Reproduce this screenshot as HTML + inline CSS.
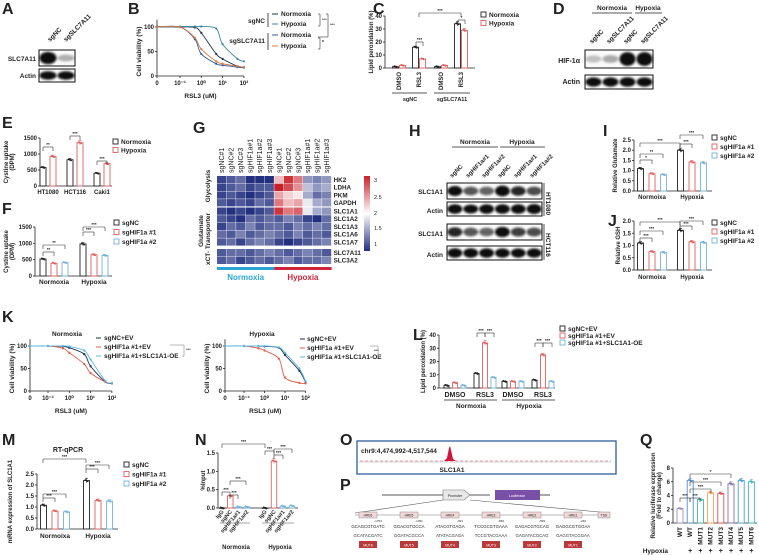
<!DOCTYPE html>
<html><head><meta charset="utf-8">
<style>
html,body{margin:0;padding:0;background:#fff;}
svg{display:block;font-family:"Liberation Sans",Arial,sans-serif;}
</style></head>
<body>
<svg id="fig" width="759" height="555" viewBox="0 0 759 555" xmlns="http://www.w3.org/2000/svg">
<defs>
<filter id="blur" x="-50%" y="-50%" width="200%" height="200%"><feGaussianBlur stdDeviation="1.1"/></filter>
<linearGradient id="cbar" x1="0" y1="0" x2="0" y2="1">
<stop offset="0" stop-color="#c8202a"/><stop offset="0.5" stop-color="#ffffff"/><stop offset="1" stop-color="#22307f"/>
</linearGradient>
</defs>
</svg>
<script>
// ---------- DATA ----------
const doses=[0,0.1,0.5,1,5,10,50,100];
const B_sgNC_norm=[100,100,99,88,45,35,20,18];
const B_sgNC_hyp=[101,101,101,101,97,65,35,30];
const B_sgSLC_norm=[100,100,75,45,25,22,18,17];
const B_sgSLC_hyp=[100,100,78,55,30,25,20,18];
const C_norm=[1,16,1,34];
const C_hyp=[2,7,2,29];
const C_cats=['DMSO','RSL3','DMSO','RSL3'];
const E_cats=['HT1080','HCT116','Caki1'];
const E_norm=[580,820,400];
const E_hyp=[920,1350,700];
const F_sgNC=[520,980];
const F_sg1=[390,650];
const F_sg2=[410,630];
const I_sgNC=[1.1,2.0];
const I_sg1=[0.85,1.42];
const I_sg2=[0.8,1.38];
const J_sgNC=[1.1,1.62];
const J_sg1=[0.75,1.15];
const J_sg2=[0.72,1.12];
const K_norm_ctrl=[100,100,99,96,82,55,20,17];
const K_norm_sg=[100,100,95,85,60,40,20,17];
const K_norm_oe=[100,100,100,99,90,70,22,18];
const K_hyp_ctrl=[100,100,100,99,96,80,45,20];
const K_hyp_sg=[100,100,95,90,72,30,18,17];
const K_hyp_oe=[100,100,100,100,97,85,50,22];
const L_ctrl=[2,11,5,6];
const L_sg=[4,34,5,25];
const L_oe=[2,8,5,5];
const M_sgNC=[1.08,2.2];
const M_sg1=[0.82,1.3];
const M_sg2=[0.78,1.27];
const N_cats=['IgG','sgNC','sgHIF1a#1','sgHIF1a#2'];
const N_norm=[0,0.33,0.03,0.03];
const N_hyp=[0,1.28,0.05,0.06];
const Q_cats=['WT','WT','MUT1','MUT2','MUT3','MUT4','MUT5','MUT6'];
const Q_hyp=['-','+','+','+','+','+','+','+'];
const Q_vals=[2.1,6.2,3.4,4.4,4.3,5.7,6.2,6.0];
const G_cols=['sgNC#1','sgNC#2','sgNC#3','sgHIF1a#1','sgHIF1a#2','sgHIF1a#3','sgNC#1','sgNC#2','sgNC#3','sgHIF1a#1','sgHIF1a#2','sgHIF1a#3'];
const G_rows=['HK2','LDHA','PKM','GAPDH','SLC1A1','SLC1A2','SLC1A3','SLC1A6','SLC1A7','SLC7A11','SLC3A2'];
const G_vals=[
[1.1,1.2,1.3,1.0,1.0,1.0,2.3,2.9,2.6,1.5,1.4,1.5],
[1.1,1.2,1.3,1.1,1.2,1.2,3.0,2.8,2.5,1.7,1.5,1.6],
[1.1,1.2,1.1,1.0,1.1,1.2,2.4,2.2,2.1,1.6,1.3,1.4],
[1.2,1.1,1.2,1.1,1.3,1.2,2.6,2.3,2.4,1.9,1.6,1.5],
[1.1,1.0,1.1,1.0,1.1,1.2,2.9,2.6,2.7,1.9,1.6,1.5],
[1.2,1.1,1.0,1.3,1.2,1.3,1.2,1.4,1.3,1.1,1.0,1.3],
[1.1,1.3,1.2,1.4,1.2,1.3,1.3,1.2,1.4,1.3,1.4,1.3],
[1.3,1.2,1.4,1.2,1.3,1.4,1.3,1.2,1.4,1.2,1.3,1.2],
[1.2,1.3,1.1,1.3,1.4,1.3,1.1,1.0,1.1,1.2,1.3,1.4],
[1.2,1.3,1.3,1.2,1.3,1.4,1.3,1.2,1.3,1.4,1.3,1.2],
[1.2,1.3,1.1,1.2,1.3,1.2,1.3,1.4,1.2,1.3,1.3,1.4]];

// ---------- HELPERS ----------
const NS='http://www.w3.org/2000/svg';
const svg=document.getElementById('fig');
function mk(tag,a,p){const e=document.createElementNS(NS,tag);for(const k in a)e.setAttribute(k,a[k]);(p||svg).appendChild(e);return e;}
function nm(e,n){


return e;}
function grp(n){const g=mk('g',{});


return g;}
function txt(p,x,y,s,size,anchor,extra){const e=mk('text',Object.assign({x:x,y:y,'font-size':size||6,'text-anchor':anchor||'start','font-weight':'bold',fill:'#222'},extra||{}),p);e.textContent=s;return e;}
function line(p,x1,y1,x2,y2,c,w){return mk('line',{x1:x1,y1:y1,x2:x2,y2:y2,stroke:c||'#222','stroke-width':w||0.8},p);}
function panelLabel(x,y,s){const t=txt(svg,x,y,s,16,'start');

}
function rotText(p,x,y,s,size,anchor,angle){const t=txt(p,x,y,s,size,anchor,{transform:'rotate('+(angle||-90) +' '+x+' '+y+')'});return t;}
function bracket(p,x1,x2,y,lab){line(p,x1,y+4,x1,y,'#333',0.6);line(p,x1,y,x2,y,'#333',0.6);line(p,x2,y,x2,y+4,'#333',0.6);txt(p,(x1+x2)/2,y-1,lab,4.5,'middle');}

function yAxis(p,cfg){
 const sy=v=>cfg.y0-(v/cfg.max)*(cfg.y0-cfg.yTop);
 const ax=mk('g',{},p);nm(ax,'y-axis');
 line(ax,cfg.ax,cfg.y0,cfg.ax,sy(cfg.ticks[cfg.ticks.length-1]));
 cfg.ticks.forEach(v=>{line(ax,cfg.ax-2,sy(v),cfg.ax,sy(v));const t=txt(ax,cfg.ax-3,sy(v)+2,cfg.fmt(v),6,'end');nm(t,'y-tick-label');});
 if(cfg.xEnd){const xa=line(p,cfg.ax,cfg.y0,cfg.xEnd,cfg.y0);nm(xa,'x-axis');}
 if(cfg.label){const L=rotText(p,cfg.lx,(cfg.y0+cfg.yTop)/2,cfg.label,6,'middle');nm(L,'y-axis-title');
  if(cfg.label2){const L2=rotText(p,cfg.lx+6,(cfg.y0+cfg.yTop)/2,cfg.label2,6,'middle');nm(L2,'y-axis-title');}}
 return sy;
}
function barSeries(p,sy,y0,vals,xs,bw,color,name,fill){
 vals.forEach((v,i)=>{const x=xs(i);
  const r=mk('rect',{x:x-bw/2,y:sy(v),width:bw,height:Math.max(0.3,y0-sy(v)),fill:fill||'#fff',stroke:color,'stroke-width':0.9},p);
  
  
  const err=Math.max(0.6,(y0-sy(v))*0.05);
  line(p,x,sy(v)-err,x,sy(v)+err,color,0.6);line(p,x-1.5,sy(v)-err,x+1.5,sy(v)-err,color,0.6);
  [-1.2,0,1.2].forEach((d,k)=>mk('circle',{cx:x+d,cy:sy(v)+(k-1)*0.6,r:0.9,fill:color},p));
 });
}
function legend(p,x,y,items,dy,size){
 items.forEach((it,i)=>{const g=mk('g',{},p);nm(g,'legend-entry');
  mk('rect',{x:x,y:y+i*dy-5,width:5,height:5,fill:'#fff',stroke:it[1],'stroke-width':0.9},g);
  txt(g,x+8,y+i*dy,it[0],size||6.5,'start');});
}
function logX(d,x0,xm1,dec){return d===0?x0:xm1+(Math.log10(d)+1)*dec;}
function smoothPath(pts){let d='M'+pts[0][0]+','+pts[0][1];
 for(let i=0;i<pts.length-1;i++){const p0=pts[Math.max(0,i-1)],p1=pts[i],p2=pts[i+1],p3=pts[Math.min(pts.length-1,i+2)];
  const c1=[p1[0]+(p2[0]-p0[0])/6,p1[1]+(p2[1]-p0[1])/6],c2=[p2[0]-(p3[0]-p1[0])/6,p2[1]-(p3[1]-p1[1])/6];
  d+=' C'+c1[0]+','+c1[1]+' '+c2[0]+','+c2[1]+' '+p2[0]+','+p2[1];}
 return d;}
function doseChart(p,cfg,series){
 const sy=v=>cfg.y0-(v/100)*(cfg.y0-cfg.y100);
 const ya=mk('g',{},p);nm(ya,'y-axis');
 line(ya,cfg.x0,cfg.y0,cfg.x0,sy(115));
 [0,50,100].forEach(v=>{line(ya,cfg.x0-2,sy(v),cfg.x0,sy(v));txt(ya,cfg.x0-3,sy(v)+2,String(v),6,'end');});
 const xa=mk('g',{},p);nm(xa,'x-axis');
 line(xa,cfg.x0,cfg.y0,logX(100,cfg.x0,cfg.xm1,cfg.dec),cfg.y0);
 [[0,'0'],[0.1,'10⁻¹'],[1,'10⁰'],[10,'10¹'],[100,'10²']].forEach(t=>{const x=logX(t[0],cfg.x0,cfg.xm1,cfg.dec);line(xa,x,cfg.y0,x,cfg.y0+2);txt(xa,x,cfg.y0+9,t[1],6,'middle');});
 const xt=txt(p,(cfg.x0+logX(100,cfg.x0,cfg.xm1,cfg.dec))/2,cfg.y0+22,'RSL3 (uM)',6.5,'middle');nm(xt,'x-axis-title');
 const yt=rotText(p,cfg.x0-16,(cfg.y0+cfg.y100)/2,'Cell viability (%)',6.5,'middle');nm(yt,'y-axis-title');
 series.forEach(s=>{const pts=doses.map((d,i)=>[logX(d,cfg.x0,cfg.xm1,cfg.dec),sy(s.v[i])]);
  const path=mk('path',{d:smoothPath(pts),fill:'none',stroke:s.c,'stroke-width':0.9},p);
  
  
  pts.forEach(q=>mk('circle',{cx:q[0],cy:q[1],r:1.1,fill:s.c},p));});
}
function blot(p,x,y,w,h,bands,name){const g=mk('g',{},p);
 
 
 mk('rect',{x:x,y:y,width:w,height:h,fill:'#fafafa',stroke:'#111','stroke-width':1},g);
 const lw=w/bands.length;
 bands.forEach((b,i)=>{if(b>0)mk('ellipse',{cx:x+lw*(i+0.5),cy:y+h/2,rx:lw*0.47,ry:h*0.2+h*0.14*Math.min(b,1.3),fill:'#0a0a0a','fill-opacity':Math.min(1,0.2+b),filter:'url(#blur)'},g);});
}

const BLK='#222',RED='#e06060',BLU='#74b2dc';

// ---------- A ----------
panelLabel(2,14,'A');
{const g=grp('panel-a-western');
 rotText(g,50,42,'sgNC',6.5,'start',-45);rotText(g,66,42,'sgSLC7A11',6.5,'start',-45);
 txt(g,36,61,'SLC7A11',6.5,'end');txt(g,36,78,'Actin',6.5,'end');
 blot(g,39,50,36,16,[1.3,0.1],'slc7a11-blot');blot(g,39,69,36,13,[0.9,0.9],'actin-blot');}

// ---------- B ----------
panelLabel(128,14,'B');
{const g=grp('panel-b-dose-response');
 doseChart(g,{x0:157,y0:76,y100:27,xm1:180,dec:21.3},[
  {v:B_sgNC_norm,c:'#1f2f4f',n:'sgnc-normoxia'},{v:B_sgNC_hyp,c:'#3a8aa0',n:'sgnc-hypoxia'},
  {v:B_sgSLC_norm,c:'#2b5fa6',n:'sgslc7a11-normoxia'},{v:B_sgSLC_hyp,c:'#e07a3a',n:'sgslc7a11-hypoxia'}]);
 const lg=mk('g',{},g);nm(lg,'legend');
 txt(lg,265,23,'sgNC',6.5,'end');txt(lg,265,43,'sgSLC7A11',6.5,'end');
 line(lg,268,13,268,27);line(lg,268,33,268,50);
 [[16,'#1f2f4f','Normoxia'],[26,'#3a8aa0','Hypoxia'],[37,'#2b5fa6','Normoxia'],[48,'#e07a3a','Hypoxia']].forEach(r=>{line(lg,272,r[0]-2,278,r[0]-2,r[1],1);txt(lg,281,r[0],r[2],6.5,'start');});
 line(lg,318,14,320,14,'#333',.6);line(lg,320,14,320,26,'#333',.6);line(lg,318,26,320,26,'#333',.6);txt(lg,322,21,'***',4,'start');
 line(lg,326,14,328,14,'#333',.6);line(lg,328,14,328,37,'#333',.6);line(lg,318,37,328,37,'#333',.6);txt(lg,330,26,'***',4,'start');
 line(lg,318,38,320,38,'#333',.6);line(lg,320,38,320,49,'#333',.6);line(lg,318,49,320,49,'#333',.6);txt(lg,322,44,'*',5,'start');}

// ---------- C ----------
panelLabel(373,14,'C');
{const g=grp('panel-c-lipid-peroxidation');
 const cfg={ax:385,y0:68,yTop:16,max:40,ticks:[0,10,20,30,40],fmt:v=>String(v),xEnd:475,label:'Lipid peroxidation (%)',lx:373};
 const sy=yAxis(g,cfg);
 const centers=[399,419,441,461];
 barSeries(g,sy,68,C_norm,i=>centers[i]-3.5,6,BLK,'c-normoxia');
 barSeries(g,sy,68,C_hyp,i=>centers[i]+3.5,6,RED,'c-hypoxia');
 C_cats.forEach((c,i)=>{const t=rotText(g,centers[i]+2,72,c,6,'end');nm(t,'x-tick-label');});
 line(g,392,93,427,93);line(g,434,93,470,93);
 txt(g,410,101,'sgNC',5.5,'middle');txt(g,452,101,'sgSLC7A11',5.5,'middle');
 bracket(g,416,423,42,'***');bracket(g,458,465,20,'*');bracket(g,419,461,13,'***');
 legend(g,481,17,[['Normoxia',BLK],['Hypoxia',RED]],8.5);}

// ---------- D ----------
panelLabel(553,14,'D');
{const g=grp('panel-d-western');
 txt(g,612,10,'Normoxia',6.5,'middle');txt(g,648,10,'Hypoxia',6.5,'middle');
 line(g,592,13,632,13);line(g,635,13,662,13);
 ['sgNC','sgSLC7A11','sgNC','sgSLC7A11'].forEach((s,i)=>rotText(g,592+i*17,44,s,6.5,'start',-45));
 txt(g,580,63,'HIF-1α',7,'end');txt(g,580,84,'Actin',7,'end');
 blot(g,585,50,68,18,[0.03,0.12,1.4,1.4],'hif1a-blot');blot(g,585,75,68,14,[0.9,0.9,1.0,0.9],'actin-blot');}

// ---------- E ----------
panelLabel(2,128,'E');
{const g=grp('panel-e-cystine-uptake');
 const cfg={ax:40,y0:186,yTop:138,max:1500,ticks:[0,500,1000,1500],fmt:v=>String(v),xEnd:112,label:'Cystine uptake',label2:'(DPM)',lx:8};
 const sy=yAxis(g,cfg);const centers=[48,75,102];
 barSeries(g,sy,186,E_norm,i=>centers[i]-5,6,BLK,'e-normoxia');
 barSeries(g,sy,186,E_hyp,i=>centers[i]+5,6,RED,'e-hypoxia');
 E_cats.forEach((c,i)=>{const t=txt(g,centers[i],194,c,6,'middle');nm(t,'x-tick-label');});
 bracket(g,43,53,147,'**');bracket(g,70,80,136,'***');bracket(g,97,107,161,'***');
 legend(g,113,144,[['Normoxia',BLK],['Hypoxia',RED]],8.5);}

// ---------- F ----------
panelLabel(2,214,'F');
{const g=grp('panel-f-cystine-uptake');
 const cfg={ax:35,y0:276,yTop:227,max:1500,ticks:[0,500,1000,1500],fmt:v=>String(v),xEnd:112,label:'Cystine uptake',label2:'(DPM)',lx:8};
 const sy=yAxis(g,cfg);const centers=[54,94];
 barSeries(g,sy,276,F_sgNC,i=>centers[i]-11,6,BLK,'f-sgnc');
 barSeries(g,sy,276,F_sg1,i=>centers[i],6,RED,'f-sghif1a-1');
 barSeries(g,sy,276,F_sg2,i=>centers[i]+11,6,BLU,'f-sghif1a-2');
 ['Normoxia','Hypoxia'].forEach((c,i)=>{const t=txt(g,centers[i],284,c,6.5,'middle');nm(t,'x-tick-label');});
 bracket(g,43,54,252,'**');bracket(g,43,65,245,'**');bracket(g,83,94,232,'***');bracket(g,83,105,227,'***');
 legend(g,114,225,[['sgNC',BLK],['sgHIF1a #1',RED],['sgHIF1a #2',BLU]],9.5);}

// ---------- G heatmap ----------
panelLabel(193,133,'G');
{const g=grp('panel-g-heatmap');
 const x0=217,cw=9.55,rh=7.7,groupsY=[176,207.5,249];
 const rowY=r=>r<4?groupsY[0]+r*rh:(r<9?groupsY[1]+(r-4)*rh:groupsY[2]+(r-9)*rh);
 function col(v){const t=Math.max(0,Math.min(1,(v-1)/2));
  const lo=[34,48,127],mid=[255,255,255],hi=[200,32,42];
  const a=t<0.5?lo:mid,b=t<0.5?mid:hi,f=t<0.5?t*2:(t-0.5)*2;
  return 'rgb('+a.map((c,i)=>Math.round(c+(b[i]-c)*f)).join(',')+')';}
 G_vals.forEach((row,r)=>row.forEach((v,c)=>{const cell=mk('rect',{x:x0+c*cw,y:rowY(r),width:cw-0.4,height:rh-0.4,fill:col(v)},g);
  
  }));
 G_rows.forEach((n,r)=>{const t=txt(g,x0+12*cw+2,rowY(r)+6,n,6.3,'start');nm(t,'row-label');});
 G_cols.forEach((n,c)=>{const t=rotText(g,x0+c*cw+7,173,n,7,'start');t.setAttribute('font-weight','normal');nm(t,'column-label');});
 rotText(g,210,186,'Glycolysis',6.5,'middle');
 rotText(g,203,231,'Glutamate',6.5,'middle');rotText(g,210,231,'Transporter',6.5,'middle');
 rotText(g,210,258,'xCT-',6.5,'middle');
 mk('rect',{x:x0,y:267,width:6*cw,height:3,fill:'#2aa6d8'},g);
 mk('rect',{x:x0+6*cw,y:267,width:6*cw,height:3,fill:'#d0243a'},g);
 txt(g,x0+3*cw,280,'Normoxia',8,'middle',{fill:'#2aa6d8'});
 txt(g,x0+9*cw,280,'Hypoxia',8,'middle',{fill:'#d0243a'});
 const cb=mk('rect',{x:364,y:176,width:6,height:75,fill:'url(#cbar)'},g);nm(cb,'color-scale');
 [[3,180],[2.5,197],[2,213],[1.5,228],[1,244]].forEach(t=>txt(g,374,t[1]+2,String(t[0]),5.5,'start',{'font-weight':'normal'}));}

// ---------- H ----------
panelLabel(409,136,'H');
{const g=grp('panel-h-western');
 txt(g,475,144,'Normoxia',6.5,'middle');txt(g,522,144,'Hypoxia',6.5,'middle');
 line(g,452,147,498,147);line(g,500,147,545,147);
 ['sgNC','sgHIF1a#1','sgHIF1a#2','sgNC','sgHIF1a#1','sgHIF1a#2'].forEach((s,i)=>rotText(g,452+i*16,178,s,6,'start',-45));
 txt(g,443,194,'SLC1A1',6.5,'end');txt(g,443,213,'Actin',6.5,'end');txt(g,443,236,'SLC1A1',6.5,'end');txt(g,443,257,'Actin',6.5,'end');
 blot(g,447,183,95,16,[0.8,0.5,0.45,0.95,0.7,0.55],'slc1a1-blot-ht1080');
 blot(g,447,202,95,14,[1.0,0.8,1.0,1.0,1.0,1.1],'actin-blot-ht1080');
 blot(g,447,224,95,16,[0.7,0.5,0.45,0.85,0.6,0.55],'slc1a1-blot-hct116');
 blot(g,447,246,95,14,[1.0,1.0,1.0,0.95,0.9,0.95],'actin-blot-hct116');
 rotText(g,546,192,'HT1080',6.5,'start',90);rotText(g,546,233,'HCT116',6.5,'start',90);
 line(g,544,183,544,216);line(g,544,224,544,260);}

// ---------- I ----------
panelLabel(603,136,'I');
{const g=grp('panel-i-glutamate');
 const cfg={ax:634,y0:191,yTop:140,max:2.5,ticks:[0,0.5,1,1.5,2,2.5],fmt:v=>v.toFixed(1),xEnd:712,label:'Relative Glutamate',lx:617};
 const sy=yAxis(g,cfg);const centers=[652,692];
 barSeries(g,sy,191,I_sgNC,i=>centers[i]-11.5,6,BLK,'i-sgnc');
 barSeries(g,sy,191,I_sg1,i=>centers[i],6,RED,'i-sghif1a-1');
 barSeries(g,sy,191,I_sg2,i=>centers[i]+11.5,6,BLU,'i-sghif1a-2');
 ['Normoixa','Hypoxia'].forEach((c,i)=>{const t=txt(g,centers[i],199,c,6,'middle');nm(t,'x-tick-label');});
 bracket(g,640,652,160,'*');bracket(g,640,663,154,'**');bracket(g,680,692,144,'***');bracket(g,680,703,135,'***');bracket(g,640,680,143,'***');
 legend(g,712,140,[['sgNC',BLK],['sgHIF1a #1',RED],['sgHIF1a #2',BLU]],9);}

// ---------- J ----------
panelLabel(608,226,'J');
{const g=grp('panel-j-gsh');
 const cfg={ax:634,y0:270,yTop:221,max:2,ticks:[0,0.5,1,1.5,2],fmt:v=>v.toFixed(1),xEnd:712,label:'Relative GSH',lx:620};
 const sy=yAxis(g,cfg);const centers=[652,692];
 barSeries(g,sy,270,J_sgNC,i=>centers[i]-11.5,6,BLK,'j-sgnc');
 barSeries(g,sy,270,J_sg1,i=>centers[i],6,RED,'j-sghif1a-1');
 barSeries(g,sy,270,J_sg2,i=>centers[i]+11.5,6,BLU,'j-sghif1a-2');
 ['Normoixa','Hypoxia'].forEach((c,i)=>{const t=txt(g,centers[i],279,c,6,'middle');nm(t,'x-tick-label');});
 bracket(g,640,652,238,'***');bracket(g,640,663,231,'***');bracket(g,680,692,226,'***');bracket(g,680,703,221,'***');bracket(g,640,680,222,'***');
 legend(g,712,225,[['sgNC',BLK],['sgHIF1a #1',RED],['sgHIF1a #2',BLU]],9);}

// ---------- K ----------
panelLabel(2,322,'K');
{const g=grp('panel-k-normoxia');
 txt(g,67,336,'Normoxia',6.5,'middle');
 doseChart(g,{x0:30,y0:391,y100:346,xm1:48,dec:21.3},[
  {v:K_norm_ctrl,c:'#1f2f4f',n:'k-norm-sgnc-ev'},{v:K_norm_sg,c:'#e05a4a',n:'k-norm-sghif1a-ev'},{v:K_norm_oe,c:'#5cb8e0',n:'k-norm-sghif1a-oe'}]);
 const lg=mk('g',{},g);nm(lg,'legend');
 [['sgNC+EV','#1f2f4f'],['sgHIF1a #1+EV','#e05a4a'],['sgHIF1a #1+SLC1A1-OE','#5cb8e0']].forEach((r,i)=>{line(lg,96,340+i*9-2,101,340+i*9-2,r[1],1);txt(lg,104,340+i*9,r[0],6.5,'start');});
 line(lg,170,345,184,345,'#888',.6);line(lg,184,345,184,356,'#888',.6);line(lg,182,356,184,356,'#888',.6);txt(lg,186,351,'***',4,'start');}
{const g=grp('panel-k-hypoxia');
 txt(g,262,336,'Hypoxia',6.5,'middle');
 doseChart(g,{x0:225,y0:391,y100:346,xm1:244,dec:20.5},[
  {v:K_hyp_ctrl,c:'#1f2f4f',n:'k-hyp-sgnc-ev'},{v:K_hyp_sg,c:'#e05a4a',n:'k-hyp-sghif1a-ev'},{v:K_hyp_oe,c:'#5cb8e0',n:'k-hyp-sghif1a-oe'}]);
 const lg=mk('g',{},g);nm(lg,'legend');
 [['sgNC+EV','#1f2f4f'],['sgHIF1a #1+EV','#e05a4a'],['sgHIF1a #1+SLC1A1-OE','#5cb8e0']].forEach((r,i)=>{line(lg,300,341+i*9-2,305,341+i*9-2,r[1],1);txt(lg,307,341+i*9,r[0],6.5,'start');});
 line(lg,370,346,378,346,'#888',.6);line(lg,378,346,378,357,'#888',.6);txt(lg,374,352,'***',4,'start');}

// ---------- L ----------
panelLabel(413,340,'L');
{const g=grp('panel-l-lipid-peroxidation');
 const cfg={ax:439,y0:388,yTop:335,max:40,ticks:[0,10,20,30,40],fmt:v=>String(v),xEnd:555,label:'Lipid peroxidation (%)',lx:425};
 const sy=yAxis(g,cfg);const centers=[455,485,513,543];
 barSeries(g,sy,388,L_ctrl,i=>centers[i]-8.5,5,BLK,'l-sgnc-ev');
 barSeries(g,sy,388,L_sg,i=>centers[i],5,RED,'l-sghif1a-ev');
 barSeries(g,sy,388,L_oe,i=>centers[i]+8.5,5,BLU,'l-sghif1a-oe');
 C_cats.forEach((c,i)=>{const t=txt(g,centers[i],397,c,7,'middle');nm(t,'x-tick-label');});
 line(g,444,400,497,400);line(g,502,400,555,400);
 txt(g,471,408,'Normoxia',6.5,'middle');txt(g,529,408,'Hypoxia',6.5,'middle');
 bracket(g,477,485,333,'***');bracket(g,485,494,333,'***');bracket(g,535,543,343,'***');bracket(g,543,552,343,'***');
 legend(g,560,331,[['sgNC+EV',BLK],['sgHIF1a #1+EV',RED],['sgHIF1a #1+SLC1A1-OE',BLU]],7);}

// ---------- M ----------
panelLabel(2,445,'M');
{const g=grp('panel-m-rt-qpcr');
 txt(g,68,452,'RT-qPCR',7,'middle');
 const cfg={ax:37,y0:529,yTop:474,max:2.5,ticks:[0,0.5,1,1.5,2,2.5],fmt:v=>v.toFixed(1),xEnd:118,label:'mRNA expression of SLC1A1',lx:12};
 const sy=yAxis(g,cfg);const centers=[55,98];
 barSeries(g,sy,529,M_sgNC,i=>centers[i]-11.5,6,BLK,'m-sgnc');
 barSeries(g,sy,529,M_sg1,i=>centers[i],6,RED,'m-sghif1a-1');
 barSeries(g,sy,529,M_sg2,i=>centers[i]+11.5,6,BLU,'m-sghif1a-2');
 ['Normoixa','Hypoxia'].forEach((c,i)=>{const t=txt(g,centers[i],538,c,6.5,'middle');nm(t,'x-tick-label');});
 bracket(g,43,55,498,'***');bracket(g,43,66,494,'***');bracket(g,86,98,469,'***');bracket(g,86,109,465,'***');bracket(g,43,86,459,'***');
 legend(g,124,467,[['sgNC',BLK],['sgHIF1a #1',RED],['sgHIF1a #2',BLU]],9.5);}

// ---------- N ----------
panelLabel(195,445,'N');
{const g=grp('panel-n-chip');
 const cfg={ax:218,y0:508,yTop:453,max:1.5,ticks:[0,0.5,1,1.5],fmt:v=>v.toFixed(1),xEnd:298,label:'%Input',lx:205};
 const sy=yAxis(g,cfg);const colors=[BLK,RED,BLU,BLU];
 N_norm.forEach((v,i)=>barSeries(g,sy,508,[v],()=>222+i*8.3,5.5,colors[i],'n-normoxia-'+i));
 N_hyp.forEach((v,i)=>barSeries(g,sy,508,[v],()=>265+i*9,5.5,colors[i],'n-hypoxia-'+i));
 N_cats.forEach((c,i)=>{rotText(g,224+i*8.3,512,c,5.5,'end',-50);rotText(g,267+i*9,512,c,5.5,'end',-50);});
 line(g,220,523,250,523,'#888');line(g,262,523,294,523,'#888');
 txt(g,236,549,'Normoxia',6,'middle');txt(g,280,549,'Hypoxia',6,'middle');
 bracket(g,222,230,492,'***');bracket(g,230,238,495,'***');bracket(g,230,246,481,'***');
 bracket(g,265,274,451,'***');bracket(g,274,283,455,'***');bracket(g,274,292,449,'***');bracket(g,222,265,444,'***');}

// ---------- O ----------
panelLabel(340,445,'O');
{const g=grp('panel-o-chip-track');
 mk('rect',{x:357,y:441,width:259,height:33,fill:'#fff',stroke:'#2f5f9a','stroke-width':1.3},g);
 txt(g,361,453,'chr9:4,474,992-4,517,544',6.5,'start');
 line(g,360,461,611,461,'#e04060',0.6).setAttribute('stroke-dasharray','3,2');
 const pk=mk('path',{d:'M444,461 L447,458 L449,448 L450,446 L451,450 L453,459 L456,461 Z',fill:'#d0143a'},g);nm(pk,'chip-peak');
 line(g,357,462,611,462,'#999',0.4);
 txt(g,452,472,'SLC1A1',6.5,'middle');}

// ---------- P ----------
panelLabel(340,490,'P');
{const g=grp('panel-p-luciferase-construct');
 line(g,382,495,490,495);line(g,540,495,550,495);
 const pr=mk('path',{d:'M443,490 L464,490 L470,495 L464,500 L443,500 Z',fill:'#e8e8e8',stroke:'#777','stroke-width':0.6},g);nm(pr,'promoter');
 txt(g,455,497,'Promoter',3.5,'middle',{'font-weight':'normal'});
 const lu=mk('rect',{x:495,y:490,width:45,height:10,fill:'#7a4fa8'},g);nm(lu,'luciferase');
 txt(g,517,497,'Luciferase',3.5,'middle',{fill:'#fff','font-weight':'normal'});
 line(g,443,500,355,513,'#555',0.6);line(g,470,500,610,513,'#555',0.6);
 line(g,355,515,610,515,'#777',0.6);
 const seqs=[['GCAGCGTGATC','GCATACGATC','MUT6'],['GGACGTGCCA','GGATACGCCA','MUT5'],['ATACGTGAGA','ATATACGAGA','MUT4'],['TCCGCGTGAAA','TCCGTACGAAA','MUT3'],['GAGACGTGCAG','GAGATACGCAG','MUT2'],['GAGGCGTGGAA','GAGGTACGGAA','MUT1']];
 const pos=['-1764','-1451','-931','-846','-599','-240'];
 seqs.forEach((s,i)=>{const cx=368+i*41;
  const b=mk('rect',{x:cx-9,y:512,width:18,height:6,fill:'#f0d8d8',stroke:'#777','stroke-width':0.4},g);nm(b,'hre-box');
  txt(g,cx,516.5,'HRE'+(6-i),3.3,'middle',{'font-weight':'normal'});
  txt(g,cx+10,522,pos[i],3,'middle',{'font-weight':'normal'});
  txt(g,cx,528,s[0],4.3,'middle',{'font-weight':'normal'});
  txt(g,cx,537,s[1],4.3,'middle',{'font-weight':'normal',fill:'#333'});
  const m=mk('rect',{x:cx-9,y:541,width:18,height:7,fill:'#b83a3a'},g);nm(m,'mut-box');
  txt(g,cx,546.5,s[2],3.5,'middle',{fill:'#fff','font-weight':'normal'});});
 mk('rect',{x:598,y:512,width:12,height:6,fill:'#f0d8d8',stroke:'#777','stroke-width':0.4},g);
 txt(g,604,516.5,'TSS',3.3,'middle',{'font-weight':'normal'});}

// ---------- Q ----------
panelLabel(640,445,'Q');
{const g=grp('panel-q-luciferase');
 const cfg={ax:673,y0:523,yTop:468,max:8,ticks:[0,2,4,6,8],fmt:v=>String(v),xEnd:757,label:'Relative luciferase expression',label2:'(Fold to change)',lx:655};
 const sy=yAxis(g,cfg);
 const qc=['#9a90b8','#4d8fd0','#3bb0a8','#f0a050','#e05050','#8070b0','#4aa0d8','#40b8b0'];
 Q_vals.forEach((v,i)=>barSeries(g,sy,523,[v],()=>680+i*10.2,6,qc[i],'q-'+Q_cats[i].toLowerCase()+'-'+i));
 Q_cats.forEach((c,i)=>{const t=rotText(g,682+i*10.2,527,c,6.5,'end');nm(t,'x-tick-label');});
 txt(g,668,553,'Hypoxia',6.5,'end');
 Q_hyp.forEach((h,i)=>{if(h==='+')txt(g,680+i*10.2,553,'+',7,'middle');});
 bracket(g,680,690,498,'***');bracket(g,690,700,498,'***');bracket(g,690,711,489,'***');bracket(g,690,721,482,'***');bracket(g,690,731,474,'*');}
</script>
</body></html>
